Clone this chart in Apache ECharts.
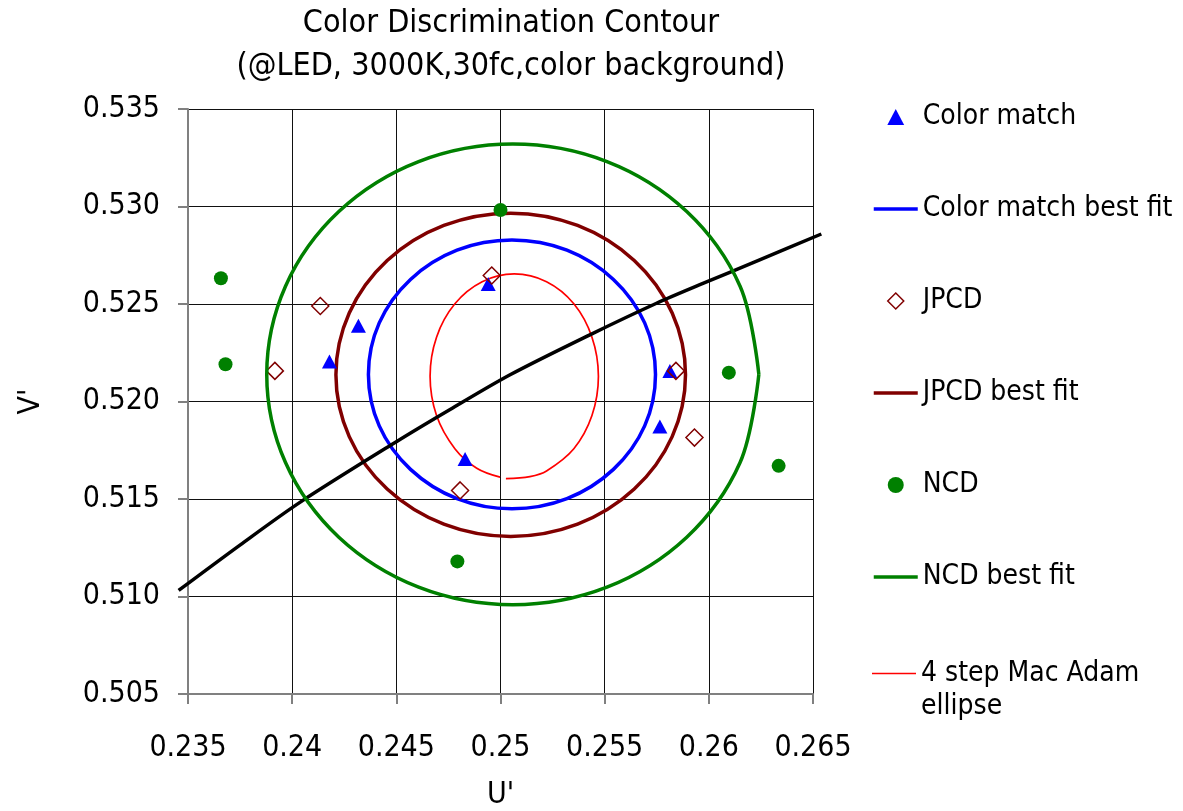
<!DOCTYPE html>
<html>
<head>
<meta charset="utf-8">
<script src="https://cdn.jsdelivr.net/npm/echarts@6/dist/echarts.min.js"></script>
<style>html,body{margin:0;padding:0;background:#fff}#c{width:1183px;height:811px}</style>
</head>
<body>
<div id="c"></div>
<script>
const FONT = "'DejaVu Sans Condensed', 'DejaVu Sans', sans-serif";

const titleText = 'Color Discrimination Contour\n(@LED, 3000K,30fc,color background)';
const xAxisName = "U'";
const yAxisName = "V'";
const xRange = [0.235, 0.265];
const yRange = [0.505, 0.535];
const tickStep = 0.005;

const seriesNames = ['Color match', 'Color match best fit', 'JPCD', 'JPCD best fit', 'NCD', 'NCD best fit', '4 step Mac Adam ellipse'];
const macAdamLegendLabel = '\n4 step Mac Adam\nellipse';

// measured points (u', v')
const colorMatch = [[0.24179, 0.52205], [0.24318, 0.52388], [0.24941, 0.52603], [0.24830, 0.51705], [0.25765, 0.51872], [0.25813, 0.52157]];
const jpcd = [[0.23917, 0.52157], [0.24135, 0.52490], [0.24958, 0.52646], [0.24806, 0.51544], [0.25842, 0.52157], [0.25931, 0.51815]];
const ncd = [[0.23658, 0.52632], [0.23680, 0.52191], [0.25000, 0.52982], [0.24793, 0.51180], [0.26096, 0.52148], [0.26335, 0.51670]];

// best-fit contours
const colorMatchFit = [[0.25744, 0.52139], [0.25692, 0.52403], [0.25542, 0.52626], [0.25319, 0.52776], [0.25055, 0.52828], [0.24791, 0.52776], [0.24568, 0.52626], [0.24418, 0.52403], [0.24366, 0.52139], [0.24418, 0.51875], [0.24568, 0.51652], [0.24791, 0.51502], [0.25055, 0.51450], [0.25319, 0.51502], [0.25542, 0.51652], [0.25692, 0.51875]];
const jpcdFit = [[0.25888, 0.52137], [0.25824, 0.52454], [0.25642, 0.52723], [0.25370, 0.52903], [0.25049, 0.52966], [0.24728, 0.52903], [0.24456, 0.52723], [0.24274, 0.52454], [0.24210, 0.52137], [0.24274, 0.51820], [0.24456, 0.51551], [0.24728, 0.51371], [0.25049, 0.51308], [0.25370, 0.51371], [0.25642, 0.51551], [0.25824, 0.51820]];
const ncdFit = [[0.26240, 0.52139], [0.26150, 0.52591], [0.25894, 0.52974], [0.25511, 0.53230], [0.25059, 0.53320], [0.24607, 0.53230], [0.24224, 0.52974], [0.23968, 0.52591], [0.23878, 0.52139], [0.23968, 0.51687], [0.24224, 0.51304], [0.24607, 0.51048], [0.25059, 0.50958], [0.25511, 0.51048], [0.25894, 0.51304], [0.26150, 0.51687], [0.26240, 0.52139]];
const macAdam = [[0.25026, 0.51604], [0.25141, 0.51615], [0.25221, 0.51644], [0.25352, 0.51758], [0.25439, 0.51928], [0.25470, 0.52129], [0.25439, 0.52330], [0.25352, 0.52501], [0.25221, 0.52614], [0.25066, 0.52654], [0.24912, 0.52614], [0.24781, 0.52501], [0.24693, 0.52330], [0.24662, 0.52129], [0.24693, 0.51928], [0.24781, 0.51758], [0.24886, 0.51658], [0.24998, 0.51612]];
// black locus curve
const locus = [[0.23455, 0.51031], [0.23751, 0.51265], [0.24039, 0.51484], [0.24502, 0.51795], [0.24758, 0.51959], [0.25046, 0.52137], [0.25429, 0.52342], [0.25749, 0.52504], [0.25957, 0.52599], [0.26244, 0.52726], [0.26540, 0.52859]];

const chart = echarts.init(document.getElementById('c'), null, {renderer: 'canvas'});

const legendText = {fontFamily: FONT, fontSize: 28, color: '#000'};
const triIcon = 'path://M0,-1L1,0.9L-1,0.9Z';
const diaIcon = 'path://M0,-1L1,0L0,1L-1,0Z';
const barIcon = 'path://M0,0H44V3.5H0Z';
const thinBarIcon = 'path://M0,0H44V1.7H0Z';

// smooth contour drawn through the data points via the axes' scales
function curve(points, color, width, closed, smooth) {
  return function (params, api) {
    if (params.dataIndex !== 0) { return null; }
    const pts = points.map(function (p) { return api.coord(p); });
    return {type: closed ? 'polygon' : 'polyline', shape: {points: pts, smooth: smooth},
      style: {stroke: color, lineWidth: width, fill: null}};
  };
}

chart.setOption({
  animation: false,
  backgroundColor: '#fff',
  title: {
    text: titleText,
    left: 506,
    top: -3,
    textAlign: 'center',
    textStyle: {fontFamily: FONT, fontSize: 32, fontWeight: 'normal', color: '#000', lineHeight: 43}
  },
  grid: {left: 188, right: 370, top: 109, bottom: 117, containLabel: false, outerBoundsMode: 'none'},
  legend: [
    {
      orient: 'vertical', left: 872, top: 102, padding: 0,
      itemWidth: 44, itemHeight: 16, itemGap: 62,
      textStyle: Object.assign({lineHeight: 30}, legendText),
      data: [
        {name: seriesNames[0], icon: triIcon},
        {name: seriesNames[1], icon: barIcon},
        {name: seriesNames[2], icon: diaIcon, itemStyle: {borderWidth: 1.5}},
        {name: seriesNames[3], icon: barIcon},
        {name: seriesNames[4], icon: 'circle'},
        {name: seriesNames[5], itemStyle: {opacity: 0}, lineStyle: {width: 3.5}}
      ]
    },
    {
      orient: 'vertical', left: 872, top: 624, padding: 0,
      itemWidth: 44, itemHeight: 16,
      textStyle: Object.assign({lineHeight: 33}, legendText),
      formatter: function () { return macAdamLegendLabel; },
      data: [{name: seriesNames[6], icon: thinBarIcon}]
    }
  ],
  xAxis: {
    type: 'value', min: xRange[0], max: xRange[1], interval: tickStep,
    name: xAxisName, nameLocation: 'middle', nameGap: 86,
    nameTextStyle: {fontFamily: FONT, fontSize: 30, color: '#000'},
    axisLine: {show: true, onZero: false, lineStyle: {color: '#808080', width: 2}},
    axisTick: {show: true, length: 10, lineStyle: {color: '#808080', width: 2}},
    axisLabel: {fontFamily: FONT, fontSize: 30, color: '#000', margin: 39},
    splitLine: {show: true, lineStyle: {color: '#111', width: 1}}
  },
  yAxis: {
    type: 'value', min: yRange[0], max: yRange[1], interval: tickStep,
    name: yAxisName, nameLocation: 'middle', nameGap: 142, nameRotate: 90,
    nameTextStyle: {fontFamily: FONT, fontSize: 30, color: '#000'},
    axisLine: {show: true, onZero: false, lineStyle: {color: '#808080', width: 2}},
    axisTick: {show: true, length: 10, lineStyle: {color: '#808080', width: 2}},
    axisLabel: {fontFamily: FONT, fontSize: 30, color: '#000', margin: 28,
      formatter: function (v) { return v.toFixed(3); }},
    splitLine: {show: true, lineStyle: {color: '#111', width: 1}}
  },
  series: [
    {name: seriesNames[0], type: 'scatter', data: colorMatch, symbol: 'triangle', symbolSize: [15, 14],
      itemStyle: {color: '#0000FF', opacity: 1}},
    {name: seriesNames[1], type: 'custom', data: colorMatchFit, encode: {x: 0, y: 1}, clip: true,
      itemStyle: {color: '#0000FF'}, renderItem: curve(colorMatchFit, '#0000FF', 3.5, true, 0.35)},
    {name: seriesNames[2], type: 'scatter', data: jpcd, symbol: 'diamond', symbolSize: 17,
      itemStyle: {color: 'rgba(255,255,255,0)', borderColor: '#800000', borderWidth: 1.5, opacity: 1}},
    {name: seriesNames[3], type: 'custom', data: jpcdFit, encode: {x: 0, y: 1}, clip: true,
      itemStyle: {color: '#800000'}, renderItem: curve(jpcdFit, '#800000', 3.5, true, 0.35)},
    {name: seriesNames[4], type: 'scatter', data: ncd, symbol: 'circle', symbolSize: 14,
      itemStyle: {color: '#008000', opacity: 1}},
    {name: seriesNames[5], type: 'line', data: ncdFit, smooth: 0.35, symbol: 'none',
      lineStyle: {color: '#008000', width: 3.5}, itemStyle: {color: '#008000'}},
    {name: seriesNames[6], type: 'custom', data: macAdam, encode: {x: 0, y: 1}, clip: true,
      itemStyle: {color: '#FF0000'}, renderItem: curve(macAdam, '#FF0000', 1.7, false, 0.35)},
    {name: 'locus', type: 'custom', data: locus, clip: false, encode: {x: 0, y: 1},
      renderItem: curve(locus, '#000', 3.5, false, 0.3)}
  ]
});
</script>
</body>
</html>
